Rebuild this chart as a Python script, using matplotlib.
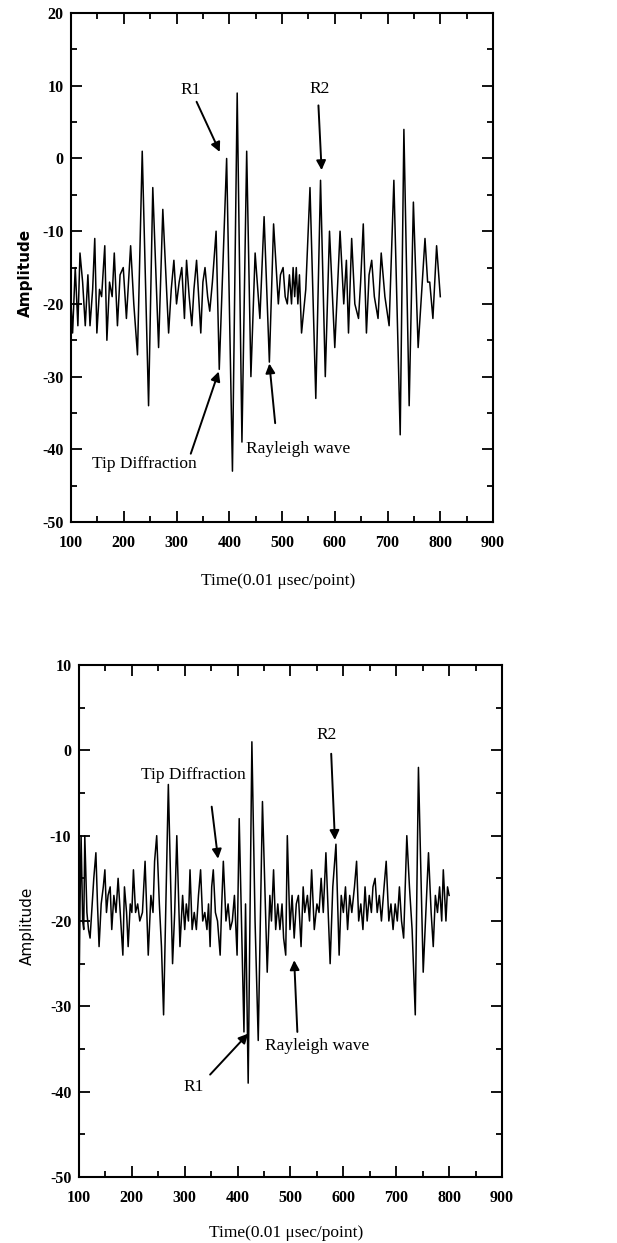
import numpy as np
import matplotlib
matplotlib.use('Agg')
import matplotlib.pyplot as plt
from matplotlib.ticker import MultipleLocator

plt.rcParams['font.family'] = ['Liberation Serif', 'DejaVu Serif']
plt.rcParams['axes.unicode_minus'] = False

# Сигнал 1: экстремумы (точка, амплитуда)
top_t = [100, 103, 108, 113, 117, 122, 127, 132, 136, 141, 145, 149, 154, 158,
         164, 168, 173, 178, 182, 188, 193, 199, 205, 209, 213, 219, 226, 235,
         247, 255, 266, 274, 285, 290, 295, 300, 305, 310, 315, 319, 324, 329,
         333, 338, 346, 350, 354, 359, 363, 368, 375, 381, 395, 406, 415, 424,
         433, 441, 449, 458, 466, 476, 484, 493, 497, 502, 506, 510, 514, 518,
         521, 524, 527, 530, 533, 537, 545, 553, 564, 573, 582, 590, 600, 610,
         617, 622, 626, 632, 638, 645, 649, 654, 660, 665, 670, 675, 682, 688,
         695, 703, 712, 724, 731, 741, 749, 758, 765, 771, 776, 780, 786, 793,
         800]
top_a = [-20, -24, -15, -23, -13, -17, -23, -16, -23, -18, -11, -24, -18, -19,
         -12, -25, -17, -19, -13, -23, -16, -15, -22, -17, -12, -20, -27, 1,
         -34, -4, -26, -7, -24, -18, -14, -20, -17, -15, -22, -14, -19, -23,
         -18, -14, -24, -17, -15, -19, -21, -17, -10, -29, 0, -43, 9, -39,
         1, -30, -13, -22, -8, -28, -9, -20, -16, -15, -19, -20, -16, -20,
         -15, -19, -15, -20, -16, -24, -18, -4, -33, -3, -30, -10, -26, -10,
         -20, -14, -24, -11, -20, -22, -17, -9, -24, -16, -14, -19, -22, -13,
         -19, -23, -3, -38, 4, -34, -6, -26, -18, -11, -17, -17, -22, -12,
         -19]

# Сигнал 2
bot_t = [100, 102, 104, 107, 109, 111, 115, 118, 121, 125, 128, 132, 135, 138,
         142, 146, 149, 152, 155, 159, 162, 166, 170, 174, 178, 183, 186, 190,
         193, 197, 200, 203, 207, 211, 215, 220, 225, 231, 236, 240, 243, 247,
         252, 256, 260, 269, 277, 281, 285, 291, 296, 300, 303, 307, 310, 314,
         318, 322, 326, 330, 334, 338, 342, 345, 348, 351, 354, 358, 362, 367,
         370, 373, 378, 382, 386, 390, 394, 399, 403, 412, 415, 420, 427, 433,
         439, 447, 456, 461, 464, 468, 472, 476, 480, 484, 487, 491, 494, 499,
         503, 507, 511, 515, 520, 524, 527, 532, 536, 540, 545, 550, 554, 558,
         562, 567, 572, 575, 580, 586, 592, 596, 600, 604, 608, 612, 616, 621,
         625, 629, 633, 637, 641, 645, 649, 653, 656, 660, 664, 668, 672, 677,
         681, 686, 690, 694, 698, 702, 706, 710, 714, 720, 725, 730, 736, 742,
         751, 756, 761, 766, 770, 774, 778, 782, 786, 789, 794, 797, 800]
bot_a = [-29, -18, -10, -20, -21, -10, -19, -21, -22, -18, -15, -12, -18, -23,
         -18, -16, -14, -19, -17, -16, -21, -17, -19, -15, -19, -24, -16, -19,
         -23, -18, -19, -14, -19, -18, -20, -19, -13, -24, -17, -19, -13, -10,
         -18, -23, -31, -4, -25, -19, -10, -23, -17, -21, -18, -20, -14, -21,
         -19, -21, -17, -14, -20, -19, -21, -18, -23, -16, -14, -19, -20, -24,
         -18, -13, -20, -18, -21, -20, -17, -24, -8, -33, -18, -39, 1, -20,
         -34, -6, -26, -17, -20, -14, -21, -18, -21, -18, -22, -24, -10, -21,
         -17, -22, -18, -17, -23, -16, -19, -17, -20, -14, -21, -18, -19, -15,
         -19, -12, -20, -25, -16, -11, -24, -17, -19, -16, -21, -17, -19, -16,
         -13, -20, -18, -21, -16, -20, -17, -19, -16, -15, -19, -17, -20, -16,
         -13, -20, -18, -21, -18, -20, -16, -20, -22, -10, -16, -21, -31, -2,
         -26, -19, -12, -19, -23, -17, -19, -16, -20, -14, -20, -16, -17]

x_label = 'Time(0.01 \u03bcsec/point)'
y_label = 'Amplitude'


def style_axes(ax, ylim, xlab_y, ylab_x, ylab_weight):
    ax.set_xlim(100, 900)
    ax.set_ylim(*ylim)
    ax.xaxis.set_major_locator(MultipleLocator(100))
    ax.xaxis.set_minor_locator(MultipleLocator(50))
    ax.yaxis.set_major_locator(MultipleLocator(10))
    ax.yaxis.set_minor_locator(MultipleLocator(5))
    ax.tick_params(which='both', direction='in', top=True, right=True, width=1.3)
    ax.tick_params(which='major', length=8)
    ax.tick_params(which='minor', length=4)
    ax.tick_params(axis='x', pad=9.5)
    ax.tick_params(axis='y', pad=5.5)
    for lbl in ax.get_xticklabels() + ax.get_yticklabels():
        lbl.set_fontsize(11.5)
        lbl.set_fontweight('bold')
    for s in ax.spines.values():
        s.set_linewidth(1.5)
    ax.set_xlabel(x_label, fontsize=12.5)
    ax.xaxis.set_label_coords(0.49, xlab_y)
    ax.set_ylabel(y_label, fontsize=11, fontweight=ylab_weight,
                  family=['DejaVu Sans'])
    ax.yaxis.set_label_coords(ylab_x, 0.49)


def arrow(ax, start, tip):
    ax.annotate('', xy=tip, xytext=start,
                arrowprops=dict(arrowstyle='-|>', color='k', lw=1.4,
                                mutation_scale=14, shrinkA=0, shrinkB=0))


fig = plt.figure(figsize=(6.17, 12.43), dpi=100)
fs = 12.5

# Верхний график
ax1 = fig.add_axes([0.1151, 0.58, 0.684, 0.4095])
ax1.plot(top_t, top_a, 'k-', linewidth=1.1)
style_axes(ax1, (-50, 20), -0.100, -0.09, 'bold')
ax1.text(326, 9.4, 'R1', fontsize=fs, ha='center', va='center')
arrow(ax1, (338, 7.8), (382, 0.9))
ax1.text(572, 9.6, 'R2', fontsize=fs, ha='center', va='center')
arrow(ax1, (569, 7.3), (575, -1.6))
ax1.text(240, -42, 'Tip Diffraction', fontsize=fs, ha='center', va='center')
arrow(ax1, (327, -40.6), (380, -29.3))
ax1.text(531, -39.9, 'Rayleigh wave', fontsize=fs, ha='center', va='center')
arrow(ax1, (487, -36.4), (476, -28.2))

# Нижний график
ax2 = fig.add_axes([0.128, 0.0531, 0.6856, 0.4119])
ax2.plot(bot_t, bot_a, 'k-', linewidth=1.1)
style_axes(ax2, (-50, 10), -0.094, -0.104, 'normal')
ax2.text(316, -2.9, 'Tip Diffraction', fontsize=fs, ha='center', va='center')
arrow(ax2, (351, -6.6), (363, -12.7))
ax2.text(568, 1.8, 'R2', fontsize=fs, ha='center', va='center')
arrow(ax2, (577, -0.4), (584, -10.5))
ax2.text(316, -39.4, 'R1', fontsize=fs, ha='center', va='center')
arrow(ax2, (348, -38.0), (420, -33.2))
ax2.text(550, -34.6, 'Rayleigh wave', fontsize=fs, ha='center', va='center')
arrow(ax2, (513, -33), (507, -24.6))

fig.savefig('out.png', dpi=100)
